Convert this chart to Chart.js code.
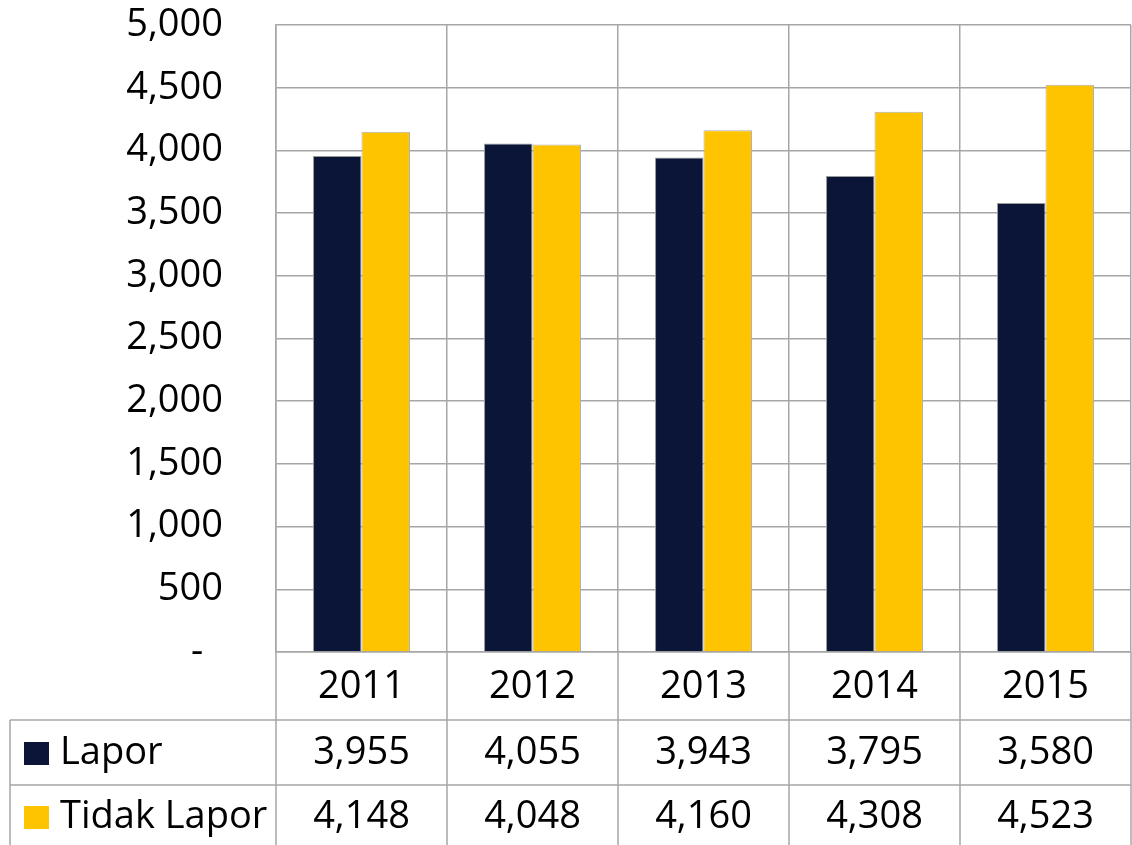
<!DOCTYPE html>
<html>
<head>
<meta charset="utf-8">
<script src="https://cdn.jsdelivr.net/npm/chart.js@4/dist/chart.umd.min.js"></script>
<style>
  html, body { margin: 0; padding: 0; background: #fff; }
  #wrap { width: 1132px; height: 845px; position: relative; }
</style>
</head>
<body>
<div id="wrap"><canvas id="chart"></canvas></div>
<script>
// ── Data ──────────────────────────────────────────────
const years      = ['2011', '2012', '2013', '2014', '2015']
const lapor      = [3955, 4055, 3943, 3795, 3580]
const tidakLapor = [4148, 4048, 4160, 4308, 4523]
const seriesNames = ['Lapor', 'Tidak Lapor']

// ── Style ─────────────────────────────────────────────
const FONT = '"Open Sans"'
const FONT_SIZE = 38
const GRID = '#a6a6a6'
const COLORS = ['#0b1538', '#ffc400']

const fmt = v => v.toLocaleString('en-US')

// ── Data table plugin (drawn under the plot) ─────────
const dataTable = {
  id: 'dataTable',
  afterDraw(chart) {
    const { ctx, chartArea } = chart
    const x = chart.scales.x
    const n = years.length
    const w = (chartArea.right - chartArea.left) / n
    const tableLeft = 10
    const rowTops = [chartArea.bottom, 720, 785]
    const bottom = chart.height
    const rowMid = [687, 753, 817]

    ctx.save()
    ctx.strokeStyle = GRID
    ctx.lineWidth = 1.5

    // horizontal lines
    ;[720, 785].forEach(y => {
      ctx.beginPath()
      ctx.moveTo(tableLeft, y)
      ctx.lineTo(chartArea.right, y)
      ctx.stroke()
    })
    // left edge of series rows
    ctx.beginPath()
    ctx.moveTo(tableLeft, rowTops[1])
    ctx.lineTo(tableLeft, bottom)
    ctx.stroke()
    // category dividers
    for (let i = 0; i <= n; i++) {
      const px = chartArea.left + i * w
      ctx.beginPath()
      ctx.moveTo(px, chartArea.bottom)
      ctx.lineTo(px, bottom)
      ctx.stroke()
    }

    ctx.fillStyle = '#000'
    ctx.font = `${FONT_SIZE}px ${FONT}`
    ctx.textBaseline = 'middle'
    ctx.textAlign = 'center'
    years.forEach((y, i) => ctx.fillText(y, x.getPixelForValue(i), rowMid[0]))
    ;[lapor, tidakLapor].forEach((arr, r) => {
      arr.forEach((v, i) => ctx.fillText(fmt(v), x.getPixelForValue(i), rowMid[r + 1]))
    })

    // legend keys
    ctx.textAlign = 'left'
    seriesNames.forEach((name, r) => {
      ctx.fillStyle = COLORS[r]
      ctx.fillRect(24, rowMid[r + 1] - 11, 25, 23)
      ctx.fillStyle = '#000'
      ctx.fillText(name, 60, rowMid[r + 1])
    })
    ctx.restore()
  }
}

new Chart(document.getElementById('chart'), {
  type: 'bar',
  data: {
    labels: years,
    datasets: [
      { label: seriesNames[0], data: lapor,      backgroundColor: COLORS[0], borderColor: '#9a9a9a', borderWidth: 1 },
      { label: seriesNames[1], data: tidakLapor, backgroundColor: COLORS[1], borderColor: '#b0b0b0', borderWidth: 1 }
    ]
  },
  options: {
    responsive: true,
    maintainAspectRatio: false,
    animation: false,
    layout: { padding: { top: 25, right: 1, bottom: 193, left: 0 } },
    datasets: { bar: { barPercentage: 1, categoryPercentage: 0.567 } },
    plugins: { legend: { display: false }, tooltip: { enabled: false } },
    scales: {
      x: {
        ticks: { display: false },
        grid: { color: GRID, lineWidth: 1.5, drawTicks: false, offset: true },
        border: { color: GRID, width: 1.5 }
      },
      y: {
        min: 0,
        max: 5000,
        ticks: {
          stepSize: 500,
          padding: 53,
          color: '#000',
          font: { family: FONT, size: FONT_SIZE },
          callback: v => v === 0 ? '-  ' : fmt(v)
        },
        grid: { color: GRID, lineWidth: 1.5, drawTicks: false },
        border: { color: GRID, width: 1.5 },
        afterFit(scale) {
          scale.width = 276
          scale.paddingTop = 0
          scale.paddingBottom = 0
        }
      }
    }
  },
  plugins: [dataTable]
})
</script>
</body>
</html>
